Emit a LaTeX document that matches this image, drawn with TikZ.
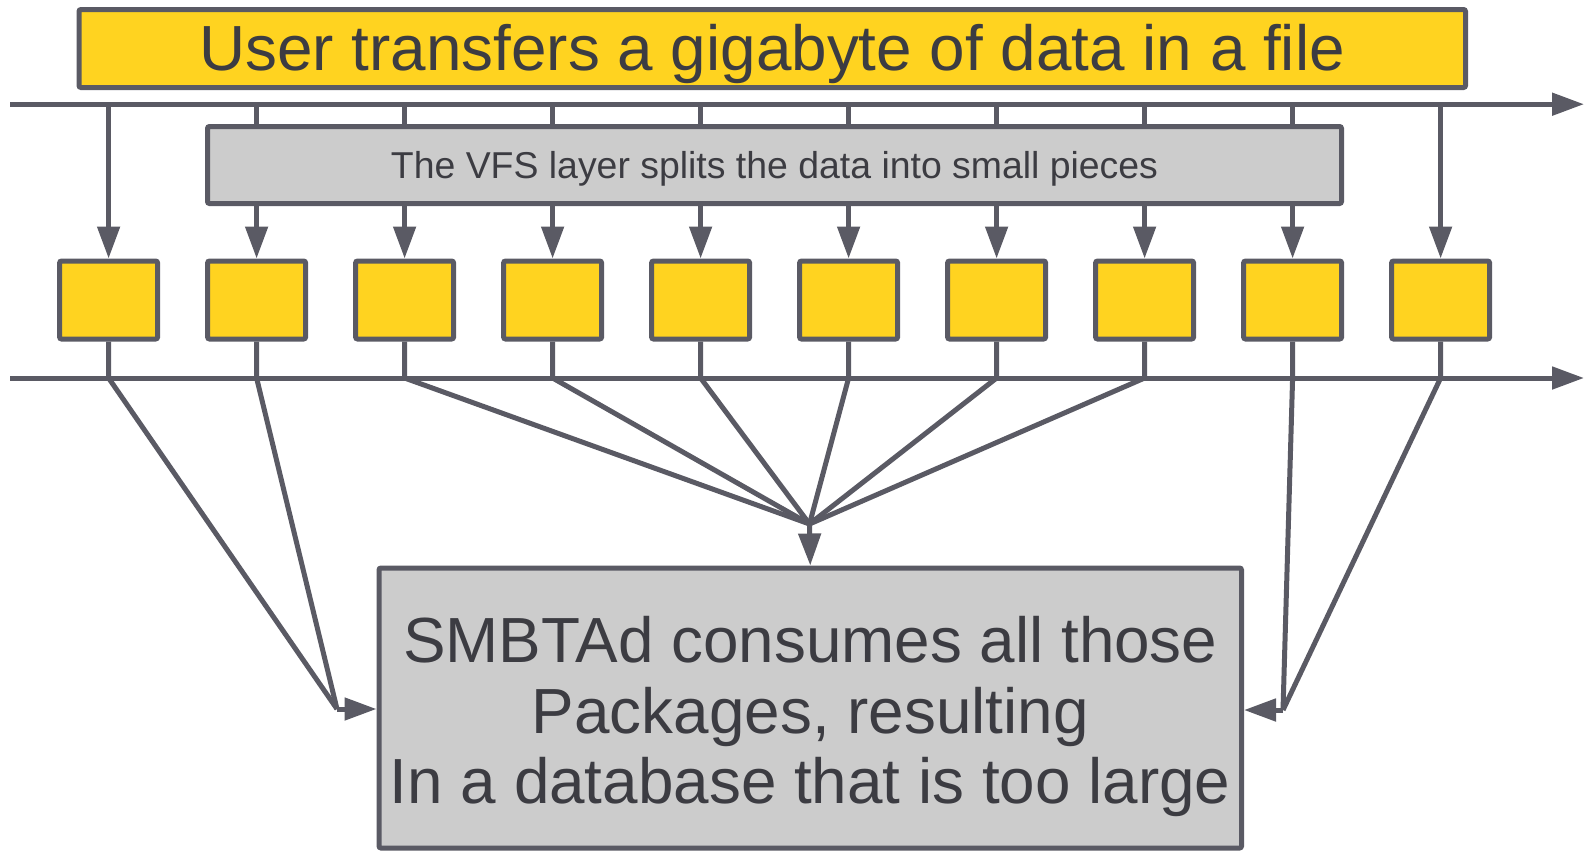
\documentclass[tikz,border=0pt]{standalone}
\usepackage{fontspec}
\setmainfont{Liberation Sans}
\usetikzlibrary{arrows.meta}
\definecolor{lc}{RGB}{90,90,100}
\definecolor{tc}{RGB}{60,60,66}
\definecolor{yel}{RGB}{255,211,32}
\definecolor{gry}{RGB}{204,204,204}
\begin{document}
\begin{tikzpicture}[x=0.5pt,y=-0.5pt,
  boxbase/.style={draw=lc,line width=2.5pt,rounded corners=1pt,inner sep=0pt},
  yelbox/.style={boxbase,fill=yel},
  grybox/.style={boxbase,fill=gry},
  smallbox/.style={yelbox,minimum width=49pt,minimum height=39pt},
  ln/.style={draw=lc,line width=2.5pt},
  arr/.style={-{Triangle[length=16pt,width=11pt]}},
  lbl/.style={text=tc,inner sep=0pt}]
\useasboundingbox (0,0) rectangle (1585,852);
% top box
\node[yelbox,minimum width=693.25pt,minimum height=39pt] (user) at (772.25,48.5) {};
\node[lbl,anchor=base,font=\fontsize{31.9}{38}\selectfont] (usertxt) at (772.25,70) {User transfers a gigabyte of data in a file};
% small boxes
\foreach \i in {1,...,10} {
  \node[smallbox] (b\i) at ({108.6+148*(\i-1)},300) {};
}
% horizontal lines
\coordinate (t0) at (10,104.2);
\coordinate (t1) at (1584,104.2);
\coordinate (u0) at (10,378);
\coordinate (u1) at (1584,378);
\draw[ln,arr] (t0) -- (t1);
\draw[ln,arr] (u0) -- (u1);
\foreach \i in {1,...,10} {
  \draw[ln,arr] (b\i.north |- t0) -- (b\i.north);
}
% VFS box
\node[grybox,minimum width=567pt,minimum height=38.5pt] (vfs) at (774.5,165) {};
\node[lbl,anchor=base,font=\fontsize{18.7}{22}\selectfont] (vfstxt) at (774.5,178) {The VFS layer splits the data into small pieces};
% database box
\node[grybox,minimum width=431.25pt,minimum height=140pt] (db) at (810.25,708) {};
\node[lbl,anchor=north,align=center,font=\fontsize{31.9}{35.25}\selectfont] (dbtxt) at (810.25,616.3)
  {SMBTAd consumes all those\\Packages, resulting\\In a database that is too large};
% fan points
\coordinate (fL) at (337,709);
\coordinate (fM) at (809.5,524);
\coordinate (fR) at (1283,710);
\foreach \i in {1,2} {
  \draw[ln] (b\i.south) -- (b\i.south |- u0) -- (fL);
}
\foreach \i in {3,...,8} {
  \draw[ln] (b\i.south) -- (b\i.south |- u0) -- (fM);
}
\foreach \i in {9,10} {
  \draw[ln] (b\i.south) -- (b\i.south |- u0) -- (fR);
}
\draw[ln,arr] (fL) -- (fL -| db.west);
\draw[ln,arr] (fR) -- (fR -| db.east);
\draw[ln,arr] (fM) -- (db.north);
\end{tikzpicture}
\end{document}
